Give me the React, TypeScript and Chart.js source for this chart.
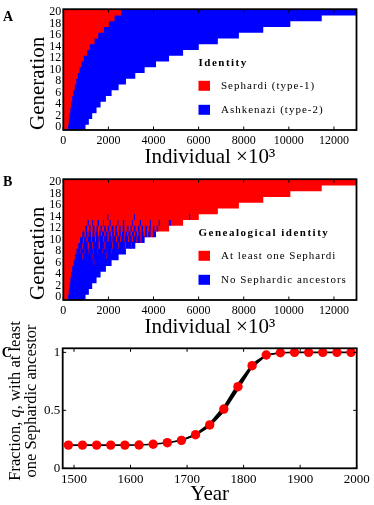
import React, { useEffect, useRef } from 'react';
import { Chart, registerables } from 'chart.js';

Chart.register(...registerables);

const RED = '#ff0000';
const BLUE = '#0000ff';
const FONT = "'Liberation Serif', 'Times New Roman', serif";
Chart.defaults.font.family = FONT;
Chart.defaults.color = '#000';

// ---------- Panels A and B ----------
const generations = ['0', '1', '2', '3', '4', '5', '6', '7', '8', '9', '10', '11', '12', '13', '14', '15', '16', '17', '18', '19', '20'];
const individualTicks = [0, 2000, 4000, 6000, 8000, 10000, 12000];
// population size per generation (individuals x10^3)
const generationSize = [963, 1111, 1259, 1452, 1630, 1867, 2119, 2430, 2756, 3170, 3585, 4089, 4667, 5289, 5985, 6830, 7763, 8844, 10044, 11437, 13000];
// Sephardi (type-1) individuals per generation
const sephardiCount = [190, 222, 252, 290, 326, 373, 424, 486, 551, 622, 696, 785, 889, 1037, 1156, 1363, 1526, 1778, 2000, 2252, 2548];

// Panel B: alternating run widths per generation, starting with "at least one Sephardi" (red), then "no Sephardic ancestors" (blue), ...
const bRowG0 = [190, 773];
const bRowG1 = [222, 889];
const bRowG2 = [252, 1007];
const bRowG3 = [290, 1162];
const bRowG4 = [326, 1304];
const bRowG5 = [373, 1494];
const bRowG6 = [430, 900, 20, 769];
const bRowG7 = [490, 330, 25, 400, 25, 600, 20, 540];
const bRowG8 = [560, 160, 15, 190, 15, 150, 15, 210, 15, 170, 15, 200, 15, 180, 15, 190, 15, 626];
const bRowG9 = [640, 180, 40, 200, 50, 150, 30, 250, 60, 200, 40, 300, 30, 250, 30, 260, 35, 230, 30, 165];
const bRowG10 = [720, 130, 40, 110, 50, 160, 30, 140, 45, 120, 35, 170, 40, 150, 50, 130, 35, 160, 45, 140, 40, 120, 35, 150, 40, 130, 45, 160, 35, 140, 50, 140];
const bRowG11 = [820, 90, 60, 80, 50, 100, 70, 85, 55, 95, 60, 75, 45, 110, 65, 80, 50, 90, 60, 85, 55, 100, 70, 80, 50, 95, 60, 75, 55, 90, 65, 85, 50, 95, 60, 80, 55, 90, 65, 85, 60, 100, 105, 139];
const bRowG12 = [963, 70, 90, 60, 100, 80, 85, 65, 110, 75, 95, 70, 90, 60, 105, 85, 80, 70, 100, 65, 95, 75, 110, 70, 90, 60, 85, 80, 100, 70, 95, 65, 105, 75, 90, 70, 100, 65, 95, 70, 484];
const bRowG13 = [1060, 50, 150, 40, 200, 60, 180, 40, 250, 50, 300, 40, 200, 60, 350, 40, 300, 50, 400, 40, 350, 48, 400, 90, 541];
const bRowG14 = [1926, 50, 1135, 40, 2404, 48, 382];
const bRowG15 = [6830];
const bRowG16 = [7763];
const bRowG17 = [8844];
const bRowG18 = [10044];
const bRowG19 = [11437];
const bRowG20 = [13000];

// ---------- Panel C ----------
const years = [1490, 1515, 1540, 1565, 1590, 1615, 1640, 1665, 1690, 1715, 1740, 1765, 1790, 1815, 1840, 1865, 1890, 1915, 1940, 1965, 1990];
const fractionQ = [0.2, 0.2, 0.2, 0.2, 0.2, 0.201, 0.207, 0.221, 0.241, 0.29, 0.374, 0.511, 0.704, 0.885, 0.977, 0.997, 1, 1, 1, 1, 1];
const fractionSpread = [0, 0, 0, 0, 0, 0, 0, 0.003, 0.006, 0.012, 0.02, 0.03, 0.035, 0.022, 0.01, 0.003, 0, 0, 0, 0, 0];
const yearTicks = [1500, 1600, 1700, 1800, 1900, 2000];
const fractionTicks = [0, 0.5, 1];

const yTitleCLine1 = ['Fraction, ', 'q', ', with at least'];
const yTitleCLine2 = 'one Sephardic ancestor';

// top-to-bottom order for the horizontal category axis (generation 20 at top)
const topDown = generations.map((_, i) => generations.length - 1 - i);

// ---------- plugins ----------
const framePlugin = {
  id: 'frame',
  afterDatasetsDraw(chart: any) {
    const { ctx, chartArea: a, scales } = chart;
    ctx.save();
    ctx.strokeStyle = '#000';
    ctx.lineWidth = 1;
    ctx.beginPath();
    const x = scales.x;
    x.ticks.forEach((t: any) => {
      const px = x.getPixelForValue(t.value);
      ctx.moveTo(px, a.bottom);
      ctx.lineTo(px, a.bottom - 3.5);
      ctx.moveTo(px, a.top);
      ctx.lineTo(px, a.top + 3.5);
    });
    const y = scales.y;
    if (y.type !== 'category') {
      y.ticks.forEach((t: any) => {
        const py = y.getPixelForValue(t.value);
        ctx.moveTo(a.left, py);
        ctx.lineTo(a.left + 3.5, py);
        ctx.moveTo(a.right, py);
        ctx.lineTo(a.right - 3.5, py);
      });
    }
    ctx.stroke();
    ctx.lineWidth = 1.8;
    ctx.strokeRect(a.left, a.top, a.right - a.left, a.bottom - a.top);
    ctx.restore();
  },
};

function legendPlugin(title: string, items: { color: string; text: string }[]) {
  return {
    id: 'customLegend',
    afterDraw(chart: any) {
      const ctx = chart.ctx;
      ctx.save();
      ctx.fillStyle = '#000';
      ctx.textBaseline = 'middle';
      ctx.textAlign = 'left';
      ctx.font = `bold 11px ${FONT}`;
      (ctx as any).letterSpacing = '1.5px';
      ctx.fillText(title, 198.5, 63.3);
      (ctx as any).letterSpacing = '1px';
      ctx.font = `11px ${FONT}`;
      items.forEach((it, i) => {
        const cy = 85.8 + i * 24;
        ctx.fillStyle = it.color;
        ctx.fillRect(198.5, cy - 5, 11.5, 10);
        ctx.fillStyle = '#000';
        ctx.fillText(it.text, 221, cy);
      });
      ctx.restore();
    },
  };
}

function letterPlugin(letter: string, x: number, y: number) {
  return {
    id: 'panelLetter',
    afterDraw(chart: any) {
      const ctx = chart.ctx;
      ctx.save();
      ctx.fillStyle = '#000';
      ctx.font = `bold 14px ${FONT}`;
      ctx.textBaseline = 'alphabetic';
      ctx.textAlign = 'left';
      ctx.fillText(letter, x, y);
      ctx.restore();
    },
  };
}

const fractionTitlePlugin = {
  id: 'fractionTitle',
  afterDraw(chart: any) {
    const ctx = chart.ctx;
    const size = 16.5;
    const cy = 101;
    ctx.save();
    ctx.fillStyle = '#000';
    ctx.textBaseline = 'middle';
    ctx.textAlign = 'left';
    const lines = [
      { x: 15.5, parts: yTitleCLine1.map((t, i) => ({ t, style: i === 1 ? 'italic ' : '' })) },
      { x: 32, parts: [{ t: yTitleCLine2, style: '' }] },
    ];
    lines.forEach((line) => {
      let w = 0;
      line.parts.forEach((p) => {
        ctx.font = `${p.style}${size}px ${FONT}`;
        w += ctx.measureText(p.t).width;
      });
      ctx.save();
      ctx.translate(line.x, cy);
      ctx.rotate(-Math.PI / 2);
      let pos = -w / 2;
      line.parts.forEach((p) => {
        ctx.font = `${p.style}${size}px ${FONT}`;
        ctx.fillText(p.t, pos, 0);
        pos += ctx.measureText(p.t).width;
      });
      ctx.restore();
    });
    ctx.restore();
  },
};

const noGrid = { display: false, drawTicks: false, drawOnChartArea: false, tickLength: 0 };

// ---------- configs ----------
function barConfig(datasets: any[], letter: string, letterY: number, legendTitle: string, legendItems: { color: string; text: string }[]) {
  const labels = topDown.map((i) => generations[i]);
  return {
    type: 'bar',
    data: { labels, datasets },
    options: {
      indexAxis: 'y',
      animation: false,
      responsive: false,
      devicePixelRatio: 1,
      events: [],
      layout: { padding: { left: 0, right: 17.5, top: 8.3, bottom: 0 } },
      plugins: { legend: { display: false }, tooltip: { enabled: false } },
      scales: {
        x: {
          type: 'linear',
          stacked: true,
          min: 0,
          max: 13000,
          grid: noGrid,
          border: { display: false },
          afterBuildTicks: (s: any) => {
            s.ticks = individualTicks.map((v) => ({ value: v }));
          },
          ticks: {
            autoSkip: false,
            maxRotation: 0,
            font: { size: 12 },
            color: '#000',
            padding: 4,
            callback: (v: any) => String(v),
          },
          title: {
            display: true,
            text: 'Individual ×10³',
            color: '#000',
            font: { size: 21, lineHeight: 1 },
            padding: { top: 0, bottom: 2.5 },
          },
          afterFit: (s: any) => {
            s.height = 40;
          },
        },
        y: {
          type: 'category',
          stacked: true,
          offset: true,
          grid: noGrid,
          border: { display: false },
          ticks: {
            autoSkip: false,
            font: { size: 12 },
            color: '#000',
            padding: 2,
            callback: (v: any) => (Number(labels[Number(v)]) % 2 === 0 ? labels[Number(v)] : ''),
          },
          title: {
            display: true,
            text: 'Generation',
            align: 'start',
            color: '#000',
            font: { size: 21, lineHeight: 1 },
            padding: { top: 27.5, bottom: 0 },
          },
          afterFit: (s: any) => {
            s.width = 63.3;
          },
        },
      },
    },
    plugins: [framePlugin, legendPlugin(legendTitle, legendItems), letterPlugin(letter, 3, letterY)],
  };
}

const barStyle = { barPercentage: 1, categoryPercentage: 1, borderWidth: 0, inflateAmount: 0.5 };

function configA() {
  const ashkenazi = generationSize.map((t, i) => t - sephardiCount[i]);
  return barConfig(
    [
      { ...barStyle, stack: 'a', label: 'Sephardi (type-1)', data: topDown.map((i) => sephardiCount[i]), backgroundColor: RED },
      { ...barStyle, stack: 'a', label: 'Ashkenazi (type-2)', data: topDown.map((i) => ashkenazi[i]), backgroundColor: BLUE },
    ],
    'A',
    20.7,
    'Identity',
    [
      { color: RED, text: 'Sephardi (type-1)' },
      { color: BLUE, text: 'Ashkenazi (type-2)' },
    ]
  );
}

function configB() {
  const rows = [bRowG0, bRowG1, bRowG2, bRowG3, bRowG4, bRowG5, bRowG6, bRowG7, bRowG8, bRowG9, bRowG10, bRowG11, bRowG12, bRowG13, bRowG14, bRowG15, bRowG16, bRowG17, bRowG18, bRowG19, bRowG20];
  const ordered = topDown.map((i) => rows[i]);
  const maxLen = Math.max(...rows.map((r) => r.length));
  const datasets: any[] = [];
  for (let k = 0; k < maxLen; k++) {
    datasets.push({
      ...barStyle,
      stack: 'b',
      label: k % 2 === 0 ? 'At least one Sephardi' : 'No Sephardic ancestors',
      data: ordered.map((r) => (r[k] === undefined ? null : r[k])),
      backgroundColor: k % 2 === 0 ? RED : BLUE,
    });
  }
  return barConfig(datasets, 'B', 16, 'Genealogical identity', [
    { color: RED, text: 'At least one Sephardi' },
    { color: BLUE, text: 'No Sephardic ancestors' },
  ]);
}

function configC() {
  const upper = years.map((x, i) => ({ x, y: fractionQ[i] + fractionSpread[i] }));
  const lower = years.map((x, i) => ({ x, y: fractionQ[i] - fractionSpread[i] }));
  return {
    type: 'line',
    data: {
      datasets: [
        {
          label: 'q',
          data: years.map((x, i) => ({ x, y: fractionQ[i] })),
          borderColor: '#000',
          borderWidth: 1.6,
          pointRadius: 4.7,
          pointBackgroundColor: RED,
          pointBorderColor: RED,
          pointBorderWidth: 0,
          fill: false,
          tension: 0,
        },
        { label: 'upper', data: upper, borderWidth: 0, borderColor: 'rgba(0,0,0,0)', pointRadius: 0, fill: false, tension: 0 },
        { label: 'lower', data: lower, borderWidth: 0, borderColor: 'rgba(0,0,0,0)', pointRadius: 0, fill: '-1', backgroundColor: '#000', tension: 0 },
      ],
    },
    options: {
      animation: false,
      responsive: false,
      devicePixelRatio: 1,
      events: [],
      layout: { padding: { left: 0, right: 17.3, top: 48.3, bottom: 0 } },
      plugins: { legend: { display: false }, tooltip: { enabled: false } },
      scales: {
        x: {
          type: 'linear',
          min: 1480,
          max: 2000,
          grid: noGrid,
          border: { display: false },
          afterBuildTicks: (s: any) => {
            s.ticks = yearTicks.map((v) => ({ value: v }));
          },
          ticks: {
            autoSkip: false,
            maxRotation: 0,
            font: { size: 13 },
            color: '#000',
            padding: 3,
            callback: (v: any) => String(v),
          },
          title: {
            display: true,
            text: 'Year',
            color: '#000',
            font: { size: 21, lineHeight: 1 },
            padding: { top: 0, bottom: 0 },
          },
          afterFit: (s: any) => {
            s.height = 36.7;
          },
        },
        y: {
          type: 'linear',
          min: 0,
          max: 1.035,
          grid: noGrid,
          border: { display: false },
          afterBuildTicks: (s: any) => {
            s.ticks = fractionTicks.map((v) => ({ value: v }));
          },
          ticks: {
            autoSkip: false,
            font: { size: 13 },
            color: '#000',
            padding: 2.5,
            callback: (v: any) => String(v),
          },
          title: { display: false },
          afterFit: (s: any) => {
            s.width = 62.7;
          },
        },
      },
    },
    plugins: [framePlugin, fractionTitlePlugin, letterPlugin('C', 1.7, 56.7)],
  };
}

function ChartCanvas({ top, height, make }: { top: number; height: number; make: () => any }) {
  const ref = useRef<HTMLCanvasElement | null>(null);
  useEffect(() => {
    if (!ref.current) return;
    const chart = new Chart(ref.current, make());
    return () => chart.destroy();
  }, []);
  return (
    <canvas
      ref={ref}
      width={374}
      height={height}
      style={{ position: 'absolute', left: 0, top, width: 374, height, display: 'block' }}
    />
  );
}

export default function App() {
  return (
    <div style={{ position: 'absolute', left: 0, top: 0, width: 374, height: 505, background: '#fff', overflow: 'hidden' }}>
      <ChartCanvas top={0} height={170} make={configA} />
      <ChartCanvas top={170} height={170} make={configB} />
      <ChartCanvas top={300} height={205} make={configC} />
    </div>
  );
}
